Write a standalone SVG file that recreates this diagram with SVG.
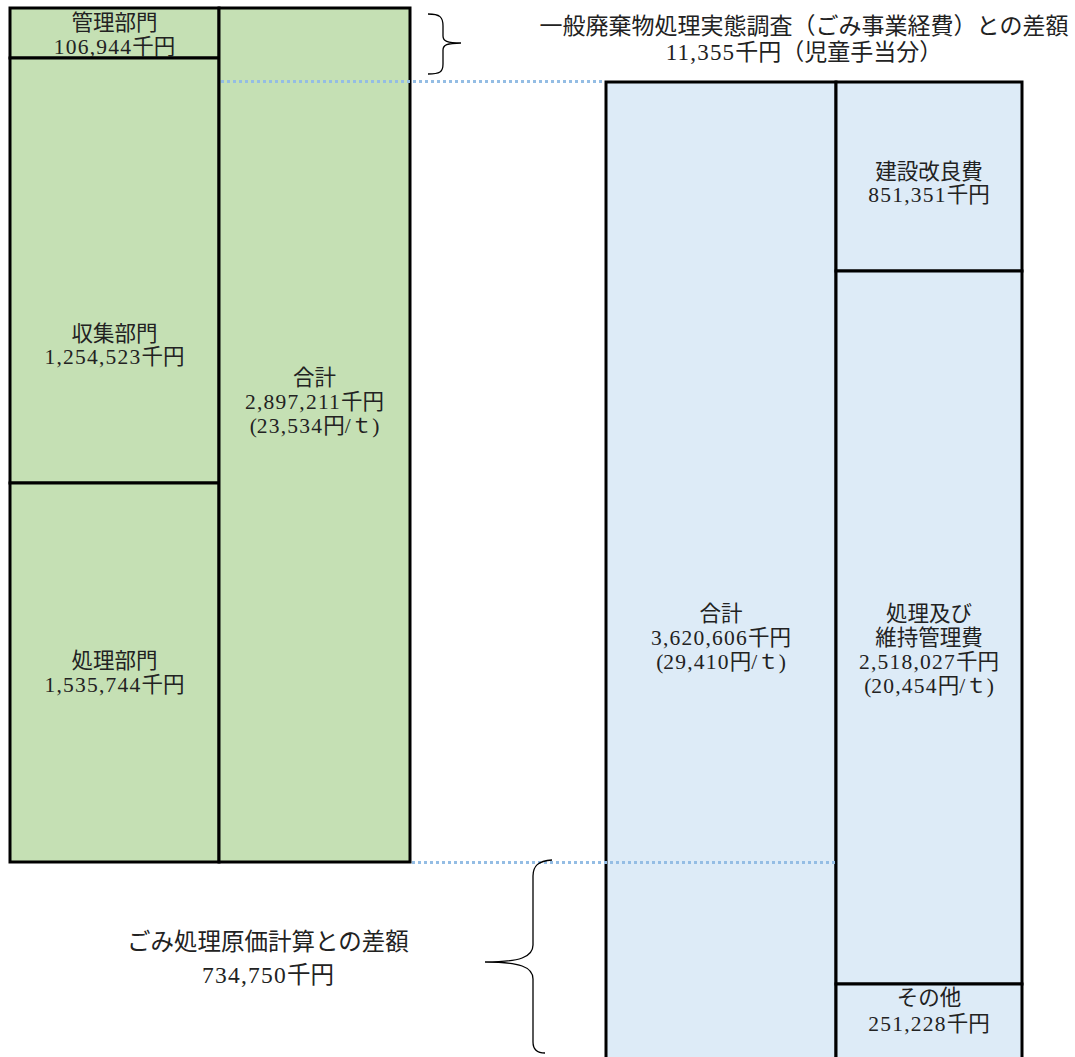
<svg xmlns="http://www.w3.org/2000/svg" width="1075" height="1057" viewBox="0 0 1075 1057">
<style>
.g{fill:#c5e0b4;stroke:#000;stroke-width:3}
.b{fill:#ddebf7;stroke:#000;stroke-width:3}
.t{font-family:"Liberation Serif","Noto Sans CJK JP",serif;font-size:21.5px;fill:#222;text-anchor:middle}
.n{letter-spacing:1.2px}
.tl{font-size:23px}
.tx{font-size:23.5px}
.dot{stroke:#94bde4;stroke-width:3;stroke-dasharray:3 3;fill:none}
.br{fill:none;stroke:#000;stroke-width:1.3}
</style>
<rect x="0" y="0" width="1075" height="1057" fill="#fff"/>
<g id="kanri">
<rect class="g" x="10" y="8" width="209" height="50"/>
<text class="t" x="114.5" y="30">管理部門</text>
<text class="t" x="114.5" y="54"><tspan class="n">106,944</tspan>千円</text>
</g>
<g id="shushu">
<rect class="g" x="10" y="58" width="209" height="425"/>
<text class="t" x="114.5" y="341">収集部門</text>
<text class="t" x="114.5" y="364"><tspan class="n">1,254,523</tspan>千円</text>
</g>
<g id="shori">
<rect class="g" x="10" y="483" width="209" height="379"/>
<text class="t" x="114.5" y="668">処理部門</text>
<text class="t" x="114.5" y="692"><tspan class="n">1,535,744</tspan>千円</text>
</g>
<g id="gokei-green">
<rect class="g" x="219" y="8" width="191" height="854"/>
<text class="t" x="314.5" y="385">合計</text>
<text class="t" x="314.5" y="409"><tspan class="n">2,897,211</tspan>千円</text>
<text class="t" x="314.5" y="433">(<tspan class="n">23,534</tspan>円/ｔ)</text>
</g>
<g id="gokei-blue">
<rect class="b" x="606" y="82" width="230" height="990"/>
<text class="t" x="721" y="621">合計</text>
<text class="t" x="721" y="645"><tspan class="n">3,620,606</tspan>千円</text>
<text class="t" x="721" y="669">(<tspan class="n">29,410</tspan>円/ｔ)</text>
</g>
<g id="kensetsu">
<rect class="b" x="836" y="82" width="186" height="189"/>
<text class="t" x="929" y="179">建設改良費</text>
<text class="t" x="929" y="202"><tspan class="n">851,351</tspan>千円</text>
</g>
<g id="iji">
<rect class="b" x="836" y="271" width="186" height="713"/>
<text class="t" x="929" y="621">処理及び</text>
<text class="t" x="929" y="645">維持管理費</text>
<text class="t" x="929" y="669"><tspan class="n">2,518,027</tspan>千円</text>
<text class="t" x="929" y="693">(<tspan class="n">20,454</tspan>円/ｔ)</text>
</g>
<g id="sonota">
<rect class="b" x="836" y="984" width="186" height="90"/>
<text class="t" x="929" y="1005">その他</text>
<text class="t" x="929" y="1031"><tspan class="n">251,228</tspan>千円</text>
</g>
<g id="label-top">
<text class="t tl" x="804" y="34">一般廃棄物処理実態調査（ごみ事業経費）との差額</text>
<text class="t tl" x="804" y="60"><tspan class="n">11,355</tspan>千円（児童手当分）</text>
</g>
<g id="label-bottom">
<text class="t tx" x="268" y="950">ごみ処理原価計算との差額</text>
<text class="t tx" x="268" y="983"><tspan class="n">734,750</tspan>千円</text>
</g>
<g id="connectors">
<line class="dot" x1="221" y1="81.5" x2="605" y2="81.5"/>
<line class="dot" x1="412" y1="862.5" x2="835" y2="862.5"/>
<path class="br" d="M428,14 C440,14 443,17 443,26 L443,36 C443,41 447,43 461,43 C447,43 443,45 443,50 L443,64 C443,72 440,74 428,74"/>
<path class="br" d="M552,860 C538,861 533,866 533,876 L533,945 C533,957 520,962 485,962 C520,962 533,967 533,979 L533,1042 C533,1050 537,1053 545,1053"/>
</g>
</svg>
